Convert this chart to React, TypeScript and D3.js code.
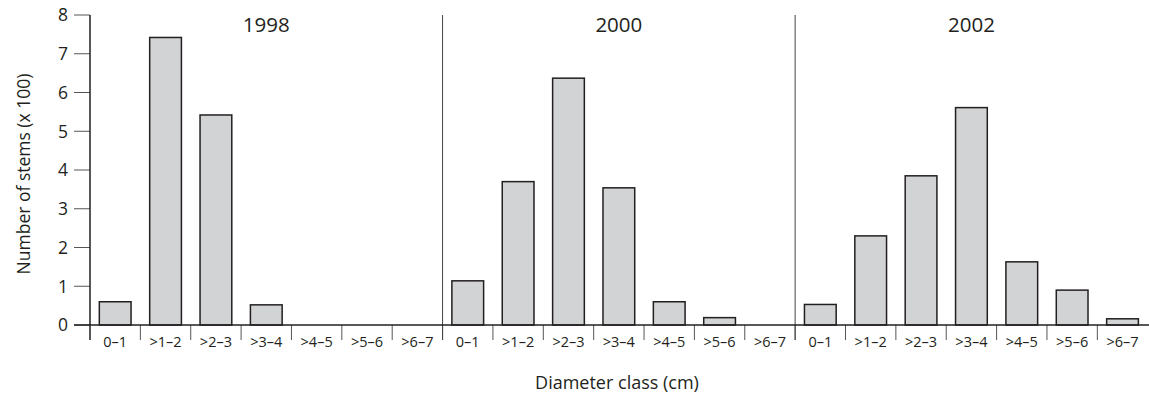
import React from "react";
import * as d3 from "d3";

const years = ["1998", "2000", "2002"];
const classes = ["0–1", ">1–2", ">2–3", ">3–4", ">4–5", ">5–6", ">6–7"];
const values1998 = [0.6, 7.42, 5.42, 0.52, 0, 0, 0];
const values2000 = [1.14, 3.7, 6.37, 3.54, 0.6, 0.19, 0];
const values2002 = [0.53, 2.3, 3.85, 5.61, 1.63, 0.9, 0.16];
const yTicks = [0, 1, 2, 3, 4, 5, 6, 7, 8];

const seriesByYear = [values1998, values2000, values2002];

const W = 1149;
const H = 398;
const left = 90;
const right = 1147.7;
const top = 15;
const bottom = 325;
const ink = "#231f20";
const font = "'Open Sans', 'Noto Sans', sans-serif";

export default function App() {
  const keys: string[] = [];
  const rows: { key: string; year: string; cls: string; value: number }[] = [];
  years.forEach((yr, i) => {
    classes.forEach((c, j) => {
      const key = yr + "|" + c;
      keys.push(key);
      rows.push({ key, year: yr, cls: c, value: seriesByYear[i][j] });
    });
  });

  const cell = d3.scaleBand<string>().domain(keys).range([left, right]).padding(0);
  const bar = d3
    .scaleBand<string>()
    .domain(keys)
    .range([left, right])
    .paddingInner(0.37)
    .paddingOuter(0.185);
  const y = d3.scaleLinear().domain([0, 8]).range([bottom, top]);

  const step = cell.step();
  const panelW = step * classes.length;

  return (
    <svg
      width={W}
      height={H}
      style={{ position: "absolute", left: 0, top: 0, background: "#fff" }}
      fontFamily={font}
    >
      <rect x={0} y={0} width={W} height={H} fill="#fff" />
      {/* y ticks */}
      {yTicks.map((t) => (
        <g key={t}>
          <line x1={74} x2={left} y1={y(t)} y2={y(t)} stroke="#555" strokeWidth={1} />
          <text x={68} y={y(t)} dy="0.36em" textAnchor="end" fontSize={17.5} fill={ink}>
            {t}
          </text>
        </g>
      ))}
      {/* bars */}
      {rows.map((r) =>
        r.value > 0 ? (
          <rect
            key={r.key}
            x={bar(r.key)!}
            y={y(r.value)}
            width={bar.bandwidth()}
            height={y(0) - y(r.value)}
            fill="#d1d3d4"
            stroke={ink}
            strokeWidth={1.5}
          />
        ) : null
      )}
      {/* category ticks */}
      {keys.map((k, i) =>
        i === 0 ? null : (
          <line key={"t" + k} x1={cell(k)!} x2={cell(k)!} y1={bottom} y2={340} stroke="#555" strokeWidth={1} />
        )
      )}
      {/* panel separators */}
      {years.slice(1).map((yr, i) => {
        const x = left + panelW * (i + 1);
        return <line key={"s" + yr} x1={x} x2={x} y1={top} y2={340} stroke="#444" strokeWidth={1} />;
      })}
      {/* axes */}
      <line x1={left} x2={left} y1={top} y2={340} stroke={ink} strokeWidth={1.5} />
      <line x1={74} x2={W} y1={bottom} y2={bottom} stroke={ink} strokeWidth={1.5} />
      {/* category labels */}
      {rows.map((r) => (
        <text
          key={"l" + r.key}
          x={cell(r.key)! + step / 2}
          y={347}
          textAnchor="middle"
          fontSize={14.5}
          fill={ink}
        >
          {r.cls}
        </text>
      ))}
      {/* panel titles */}
      {years.map((yr, i) => (
        <text
          key={"y" + yr}
          x={left + panelW * i + panelW / 2}
          y={32}
          textAnchor="middle"
          fontSize={20.5}
          fill={ink}
        >
          {yr}
        </text>
      ))}
      <text
        transform={`translate(30,${(top + bottom) / 2 + 4}) rotate(-90)`}
        textAnchor="middle"
        fontSize={17.5}
        fill={ink}
      >
        Number of stems (x 100)
      </text>
      <text x={617} y={389} textAnchor="middle" fontSize={18} fill={ink}>
        Diameter class (cm)
      </text>
    </svg>
  );
}
